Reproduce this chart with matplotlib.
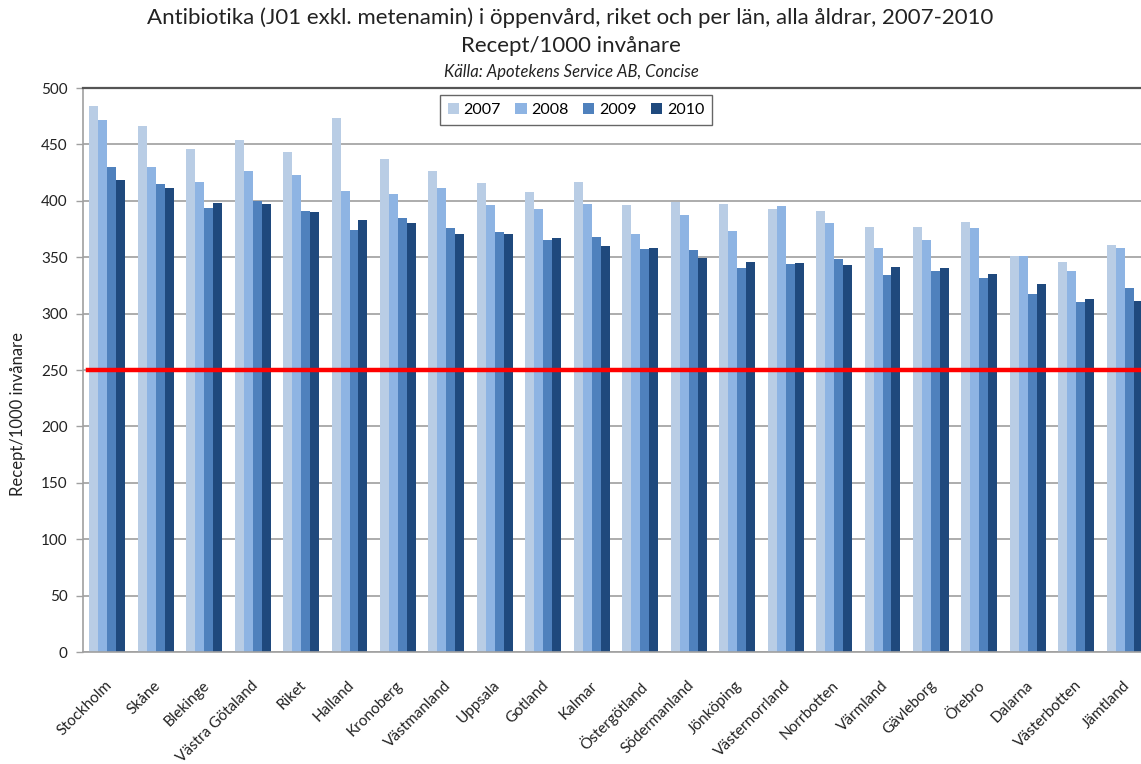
import numpy as np
import matplotlib
matplotlib.use("Agg")
import matplotlib.pyplot as plt
import matplotlib.transforms as mtransforms

plt.rcParams['font.family'] = ['Lato', 'DejaVu Sans']

regions = ["Stockholm", "Skåne", "Blekinge", "Västra Götaland", "Riket", "Halland",
           "Kronoberg", "Västmanland", "Uppsala", "Gotland", "Kalmar", "Östergötland",
           "Södermanland", "Jönköping", "Västernorrland", "Norrbotten", "Värmland",
           "Gävleborg", "Örebro", "Dalarna", "Västerbotten", "Jämtland"]

years = ["2007", "2008", "2009", "2010"]

v2007 = [484, 466, 446, 454, 443, 473, 437, 426, 416, 408, 417, 396,
         399, 397, 393, 391, 377, 377, 381, 351, 346, 361]
v2008 = [472, 430, 417, 426, 423, 409, 406, 411, 396, 393, 397, 371,
         387, 373, 395, 380, 358, 365, 376, 351, 338, 358]
v2009 = [430, 415, 394, 400, 391, 374, 385, 376, 372, 365, 368, 357,
         356, 340, 344, 348, 334, 338, 332, 317, 310, 323]
v2010 = [418, 411, 398, 397, 390, 383, 380, 371, 371, 367, 360, 358,
         349, 346, 345, 343, 341, 340, 335, 326, 313, 311]

target = 250

colors = ["#B9CDE5", "#8EB4E3", "#4F81BD", "#1F497D"]

W, H = 1141, 764
fig = plt.figure(figsize=(W / 100, H / 100), dpi=100)

# plot area in pixel coordinates (left, top, right, bottom); right edge runs past the canvas
L, T, R, B = 83, 88, 1149, 652
ax = fig.add_axes([L / W, 1 - B / H, (R - L) / W, (B - T) / H])

x = np.arange(len(regions))
bw = 0.185
series = [v2007, v2008, v2009, v2010]
for i, (vals, c, yr) in enumerate(zip(series, colors, years)):
    ax.bar(x + (i - 1.5) * bw, vals, width=bw, color=c, label=yr, zorder=2,
           linewidth=0)

ax.axhline(target, xmin=0.005, xmax=1, color="#FF0000", lw=3.2, zorder=3)

ax.set_xlim(-0.5, len(regions) - 0.5)
ax.set_ylim(0, 500)
ax.set_yticks(np.arange(0, 501, 50))
ax.yaxis.grid(True, color="#A6A6A6", lw=1.3, zorder=0)
ax.set_axisbelow(True)

ax.tick_params(axis='y', labelsize=11, colors="#A0A0A0", labelcolor="#222222",
               length=5, width=1, pad=6)
ax.set_xticks(x)
ax.set_xticklabels(regions, rotation=45, ha='right', rotation_mode='anchor',
                   fontsize=11, color="#222222")
ax.tick_params(axis='x', length=0, pad=19)
shift = mtransforms.ScaledTranslation(-2 / 100, 0, fig.dpi_scale_trans)
for lab in ax.get_xticklabels():
    lab.set_transform(lab.get_transform() + shift)

for s in ["left", "bottom", "right"]:
    ax.spines[s].set_color("#A0A0A0")
    ax.spines[s].set_linewidth(1.2)
ax.spines["top"].set_color("#555555")
ax.spines["top"].set_linewidth(1.6)

leg = ax.legend(loc='upper center', bbox_to_anchor=(576 / W, 1 - 95 / H),
                bbox_transform=fig.transFigure, ncol=4, fontsize=11.5,
                frameon=True, fancybox=False, edgecolor="#404040",
                handlelength=0.7, handleheight=0.7, handletextpad=0.3,
                columnspacing=0.9, borderpad=0.5, borderaxespad=0)
leg.get_frame().set_linewidth(1.0)

fig.text(570 / W, 1 - 18 / H,
         "Antibiotika (J01 exkl. metenamin) i öppenvård, riket och per län, alla åldrar, 2007-2010",
         ha='center', va='center', fontsize=16, color="#222222")
fig.text(571 / W, 1 - 46 / H, "Recept/1000 invånare",
         ha='center', va='center', fontsize=16, color="#222222")
fig.text(571 / W, 1 - 72 / H, "Källa: Apotekens Service AB, Concise",
         ha='center', va='center', fontsize=12, style='italic', color="#222222")

fig.text(18 / W, 1 - 414 / H, "Recept/1000 invånare", rotation=90,
         ha='center', va='center', fontsize=12, color="#222222")

fig.savefig("out.png", dpi=100)
